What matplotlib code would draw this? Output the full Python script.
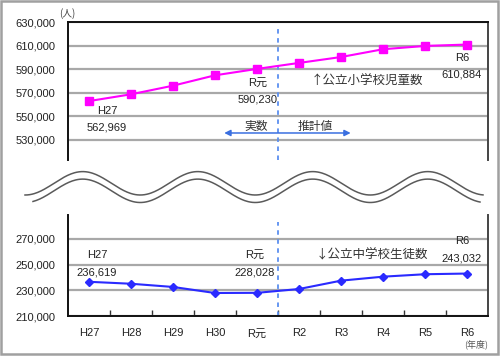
import numpy as np
import matplotlib
matplotlib.use("Agg")
import matplotlib.pyplot as plt
from matplotlib.lines import Line2D
from matplotlib.patches import Rectangle
from matplotlib.ticker import FuncFormatter

plt.rcParams['font.family'] = ['Liberation Sans', 'Noto Sans CJK JP', 'DejaVu Sans']

years = ['H27', 'H28', 'H29', 'H30', 'R元', 'R2', 'R3', 'R4', 'R5', 'R6']
elementary = [562969, 568700, 576000, 584800, 590230, 595300, 600300, 606900, 609700, 610884]
junior = [236619, 235100, 232600, 227900, 228028, 231000, 237500, 240600, 242500, 243032]
top_ticks = [530000, 550000, 570000, 590000, 610000, 630000]
bot_ticks = [210000, 230000, 250000, 270000]

W, H = 500, 356
fig = plt.figure(figsize=(5, 3.56), dpi=100)
fig.patch.set_facecolor('white')

def fx(px):
    return px / W

def fy(py):
    return 1 - py / H

ax1 = fig.add_axes([fx(68), fy(160), fx(488) - fx(68), fy(22) - fy(160)])
ax2 = fig.add_axes([fx(68), fy(316), fx(488) - fx(68), fy(215) - fy(316)])

x = np.arange(len(years))
fmt = FuncFormatter(lambda v, p: f"{int(v):,}")
grid_c = '#a8a8a8'
txt_c = '#222222'
cjk = ['Noto Sans CJK JP', 'DejaVu Sans']

# ---- top chart
ax1.plot(x, elementary, color='#ff00ff', marker='s', ms=6, lw=1.5, zorder=3)
ax1.set_xlim(-0.5, 9.5)
ax1.set_ylim(513000, 630000)
ax1.set_yticks(top_ticks)
ax1.yaxis.set_major_formatter(fmt)
ax1.set_xticks([])
ax1.grid(axis='y', color=grid_c, lw=1.6, zorder=0)
ax1.tick_params(axis='y', length=0, pad=9, labelsize=8, labelcolor=txt_c)
ax1.spines['bottom'].set_visible(False)
for s in ['left', 'top']:
    ax1.spines[s].set_color('#111111')
    ax1.spines[s].set_linewidth(1.4)
ax1.spines['right'].set_color('#444444')
ax1.spines['right'].set_linewidth(1.4)
ax1.axvline(4.5, ymin=0, ymax=0.978, color='#5b8ff0', lw=1.3, ls=(0, (2.5, 2.5)), zorder=2)

ax1.text(0.43, 554600, 'H27', ha='center', va='center', fontsize=8, color=txt_c)
ax1.text(0.43, 540200, '562,969', ha='center', va='center', fontsize=8, color=txt_c)
ax1.text(4.02, 578300, 'R元', ha='center', va='center', fontsize=8, color=txt_c)
ax1.text(4.02, 563900, '590,230', ha='center', va='center', fontsize=8, color=txt_c)
ax1.text(8.88, 599500, 'R6', ha='center', va='center', fontsize=8, color=txt_c)
ax1.text(8.88, 585100, '610,884', ha='center', va='center', fontsize=8, color=txt_c)
ax1.text(6.62, 580000, '↑公立小学校児童数', ha='center', va='center', fontsize=9,
         color='#333333', family=cjk)
ax1.text(3.98, 541000, '実数', ha='center', va='center', fontsize=8.5,
         color='#333333', family=cjk)
ax1.text(5.38, 541000, '推計値', ha='center', va='center', fontsize=8.5,
         color='#333333', family=cjk)
ax1.annotate('', xy=(3.22, 535900), xytext=(6.23, 535900),
             arrowprops=dict(arrowstyle='<|-|>', color='#3a6fe0', lw=1.1,
                             mutation_scale=9, shrinkA=0, shrinkB=0))
fig.text(fx(67), fy(14), '(人)', ha='center', va='center',
         fontsize=7, color='#444444', family=cjk)

# ---- bottom chart
ax2.plot(x, junior, color='#2a2aff', marker='D', ms=4.5, lw=1.5, zorder=3)
ax2.set_xlim(-0.5, 9.5)
ax2.set_ylim(210000, 288600)
ax2.set_yticks(bot_ticks)
ax2.yaxis.set_major_formatter(fmt)
ax2.set_xticks(x)
ax2.set_xticklabels(years)
ax2.set_xticks(x[:-1] + 0.5, minor=True)
ax2.grid(axis='y', color=grid_c, lw=1.6, zorder=0)
ax2.tick_params(axis='y', length=0, pad=9, labelsize=8, labelcolor=txt_c)
ax2.tick_params(axis='x', which='major', length=0, pad=9, labelsize=8, labelcolor=txt_c)
ax2.tick_params(axis='x', which='minor', direction='in', length=4, width=1, color='#333333')
ax2.spines['top'].set_visible(False)
for s in ['left', 'bottom']:
    ax2.spines[s].set_color('#111111')
    ax2.spines[s].set_linewidth(1.4)
ax2.spines['right'].set_color('#444444')
ax2.spines['right'].set_linewidth(1.4)
ax2.axvline(4.5, ymin=0, ymax=0.93, color='#5b8ff0', lw=1.3, ls=(0, (2.5, 2.5)), zorder=2)

ax2.text(0.19, 257500, 'H27', ha='center', va='center', fontsize=8, color=txt_c)
ax2.text(0.19, 244200, '236,619', ha='center', va='center', fontsize=8, color=txt_c)
ax2.text(3.95, 257500, 'R元', ha='center', va='center', fontsize=8, color=txt_c)
ax2.text(3.95, 244200, '228,028', ha='center', va='center', fontsize=8, color=txt_c)
ax2.text(8.88, 268400, 'R6', ha='center', va='center', fontsize=8, color=txt_c)
ax2.text(8.88, 255100, '243,032', ha='center', va='center', fontsize=8, color=txt_c)
ax2.text(6.74, 257500, '↓公立中学校生徒数', ha='center', va='center', fontsize=9,
         color='#333333', family=cjk)
fig.text(fx(476), fy(344), '(年度)', ha='center', va='center', fontsize=6.5,
         color='#555555', family=cjk)

# ---- wavy break lines (decoration)
xs = np.linspace(25, 483, 400)
ys = 183.3 - 11.7 * np.sin(2 * np.pi * (xs - 54) / 115)
fig.add_artist(Line2D(fx(xs), fy(ys), transform=fig.transFigure, color='#5a5a5a', lw=1.1))
xs2 = np.linspace(33, 480, 400)
ys2 = 190.8 - 11.7 * np.sin(2 * np.pi * (xs2 - 54) / 115)
fig.add_artist(Line2D(fx(xs2), fy(ys2), transform=fig.transFigure, color='#5a5a5a', lw=1.1))

# ---- figure border
fig.add_artist(Rectangle((fx(1), fy(354)), fx(497), fy(1) - fy(354), transform=fig.transFigure,
                         fill=False, ec='#a0a0a0', lw=1.8))

fig.savefig('out.png', dpi=100, facecolor='white')
